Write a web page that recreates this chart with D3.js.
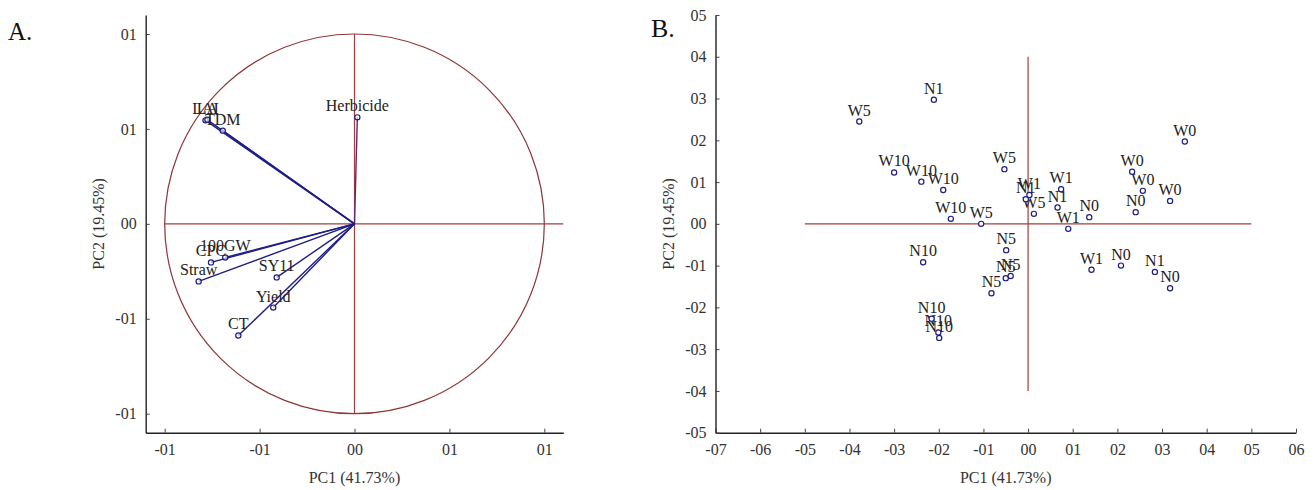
<!DOCTYPE html>
<html>
<head>
<meta charset="utf-8">
<script src="https://cdn.jsdelivr.net/npm/d3@7"></script>
<style>
  body { margin: 0; background: #fff; }
  svg { font-family: "Liberation Serif", "Times New Roman", serif; }
</style>
</head>
<body>
<svg id="svg" width="1315" height="490"></svg>
<script>
// loadings (panel A)
const loadLabels = ["LAI", "LA", "TDM", "Herbicide", "100GW", "CPC", "Straw", "SY11", "Yield", "CT"];
const loadPC1 = [-0.785, -0.775, -0.694, 0.015, -0.681, -0.756, -0.821, -0.410, -0.428, -0.612];
const loadPC2 = [0.545, 0.548, 0.491, 0.561, -0.177, -0.203, -0.303, -0.282, -0.441, -0.588];

// scores (panel B)
const scoreLabels = ["N1", "W5", "W0", "W10", "W10", "W10", "W5", "W0", "W0", "W0", "N0",
  "W1", "N1", "N0", "W1", "W10", "W5", "N1", "W1", "W5", "N5", "N10", "N5", "N5", "N5",
  "W1", "N0", "N1", "N0", "N10", "N10", "N10"];
const scorePC1 = [-0.211, -0.378, 0.351, -0.300, -0.239, -0.190, -0.053, 0.233, 0.257, 0.318, 0.241,
  0.074, 0.066, 0.137, 0.090, -0.173, -0.105, -0.005, 0.003, 0.013, -0.049, -0.235, -0.050, -0.039, -0.082,
  0.142, 0.208, 0.284, 0.318, -0.216, -0.201, -0.199];
const scorePC2 = [0.297, 0.245, 0.197, 0.123, 0.101, 0.081, 0.131, 0.125, 0.079, 0.055, 0.028,
  0.083, 0.039, 0.016, -0.012, 0.012, 0.000, 0.059, 0.069, 0.024, -0.063, -0.092, -0.130, -0.125, -0.166,
  -0.110, -0.100, -0.115, -0.154, -0.227, -0.260, -0.273];

const tickA = [-1, -0.5, 0, 0.5, 1];
const tickAText = ["-01", "-01", "00", "01", "01"];
const tickBX = [-0.7, -0.6, -0.5, -0.4, -0.3, -0.2, -0.1, 0, 0.1, 0.2, 0.3, 0.4, 0.5, 0.6];
const tickBXText = ["-07", "-06", "-05", "-04", "-03", "-02", "-01", "00", "01", "02", "03", "04", "05", "06"];
const tickBY = [-0.5, -0.4, -0.3, -0.2, -0.1, 0, 0.1, 0.2, 0.3, 0.4, 0.5];
const tickBYText = ["-05", "-04", "-03", "-02", "-01", "00", "01", "02", "03", "04", "05"];

const svg = d3.select("#svg");
const red = "#a83c3c";
const navy = "#1e1e86";

function drawAxes(x, y, xt, xtText, yt, ytText, minorStep) {
  const minorX = d3.range(x.domain()[0], x.domain()[1] + 1e-9, minorStep);
  const minorY = d3.range(y.domain()[0], y.domain()[1] + 1e-9, minorStep);
  const y0 = y.range()[0], x0 = x.range()[0];

  const gx = svg.append("g").attr("transform", `translate(0,${y0})`);
  gx.call(d3.axisBottom(x).tickValues(minorX).tickSize(-2).tickSizeOuter(0).tickFormat(""));
  gx.call(d3.axisBottom(x).tickValues(xt).tickSize(-4).tickSizeOuter(0).tickPadding(11)
    .tickFormat((d, i) => xtText[i]));

  const gy = svg.append("g").attr("transform", `translate(${x0},0)`);
  gy.call(d3.axisLeft(y).tickValues(minorY).tickSize(-2).tickSizeOuter(0).tickFormat(""));
  gy.call(d3.axisLeft(y).tickValues(yt).tickSize(-4).tickSizeOuter(0).tickPadding(9)
    .tickFormat((d, i) => ytText[i]));

  [gx, gy].forEach(g => {
    g.selectAll("path.domain").attr("stroke", "#222").attr("stroke-width", 1.4);
    g.selectAll(".tick line").attr("stroke", "#444");
    g.selectAll(".tick text").attr("font-size", 16).attr("fill", "#333")
      .attr("font-family", "Liberation Serif, serif");
  });
}

// ---------- Panel A ----------
const xA = d3.scaleLinear().domain([-1.1, 1.1]).range([145.7, 563.3]);
const yA = d3.scaleLinear().domain([-1.1, 1.1]).range([432.7, 15]);

svg.append("ellipse")
  .attr("cx", xA(0)).attr("cy", yA(0))
  .attr("rx", xA(1) - xA(0)).attr("ry", yA(0) - yA(1))
  .attr("fill", "none").attr("stroke", "#8e3535").attr("stroke-width", 1.2);
svg.append("line").attr("x1", xA(-1)).attr("x2", xA(1.1)).attr("y1", yA(0)).attr("y2", yA(0))
  .attr("stroke", red).attr("stroke-width", 1.2);
svg.append("line").attr("x1", xA(0)).attr("x2", xA(0)).attr("y1", yA(-1)).attr("y2", yA(1))
  .attr("stroke", red).attr("stroke-width", 1.2);

drawAxes(xA, yA, tickA, tickAText, tickA, tickAText, 0.1);

const gA = svg.append("g");
loadLabels.forEach((lab, i) => {
  gA.append("line")
    .attr("x1", xA(0)).attr("y1", yA(0))
    .attr("x2", xA(loadPC1[i])).attr("y2", yA(loadPC2[i]))
    .attr("stroke", lab === "Herbicide" ? "#5a2a7a" : navy).attr("stroke-width", 1.4);
});
loadLabels.forEach((lab, i) => {
  gA.append("text")
    .attr("x", xA(loadPC1[i])).attr("y", yA(loadPC2[i]) - 6)
    .attr("text-anchor", "middle").attr("font-size", 16).attr("fill", "#222")
    .text(lab);
  gA.append("circle")
    .attr("cx", xA(loadPC1[i])).attr("cy", yA(loadPC2[i])).attr("r", 2.6)
    .attr("fill", "white").attr("fill-opacity", 0.6).attr("stroke", navy).attr("stroke-width", 1.2);
});

svg.append("text").attr("x", 8).attr("y", 40).attr("font-size", 25).attr("fill", "#111").text("A.");
svg.append("text").attr("x", (xA.range()[0] + xA.range()[1]) / 2).attr("y", 483)
  .attr("text-anchor", "middle").attr("font-size", 16).attr("fill", "#333").text("PC1 (41.73%)");
svg.append("text").attr("transform", `translate(104,${yA(0)}) rotate(-90)`)
  .attr("text-anchor", "middle").attr("font-size", 16).attr("fill", "#333").text("PC2 (19.45%)");

// ---------- Panel B ----------
const xB = d3.scaleLinear().domain([-0.7, 0.6]).range([715.5, 1296]);
const yB = d3.scaleLinear().domain([-0.5, 0.5]).range([432.7, 15]);

svg.append("line").attr("x1", xB(-0.5)).attr("x2", xB(0.5)).attr("y1", yB(0)).attr("y2", yB(0))
  .attr("stroke", red).attr("stroke-width", 1.2);
svg.append("line").attr("x1", xB(0)).attr("x2", xB(0)).attr("y1", yB(-0.4)).attr("y2", yB(0.4))
  .attr("stroke", red).attr("stroke-width", 1.2);

drawAxes(xB, yB, tickBX, tickBXText, tickBY, tickBYText, 0.025);

const gB = svg.append("g");
scoreLabels.forEach((lab, i) => {
  gB.append("text")
    .attr("x", xB(scorePC1[i])).attr("y", yB(scorePC2[i]) - 6)
    .attr("text-anchor", "middle").attr("font-size", 16).attr("fill", "#222")
    .text(lab);
});
scoreLabels.forEach((lab, i) => {
  gB.append("circle")
    .attr("cx", xB(scorePC1[i])).attr("cy", yB(scorePC2[i])).attr("r", 2.6)
    .attr("fill", "white").attr("stroke", navy).attr("stroke-width", 1.2);
});

svg.append("text").attr("x", 651).attr("y", 37).attr("font-size", 26).attr("fill", "#111").text("B.");
svg.append("text").attr("x", (xB.range()[0] + xB.range()[1]) / 2).attr("y", 483)
  .attr("text-anchor", "middle").attr("font-size", 16).attr("fill", "#333").text("PC1 (41.73%)");
svg.append("text").attr("transform", `translate(674,${yB(0)}) rotate(-90)`)
  .attr("text-anchor", "middle").attr("font-size", 16).attr("fill", "#333").text("PC2 (19.45%)");
</script>
</body>
</html>
